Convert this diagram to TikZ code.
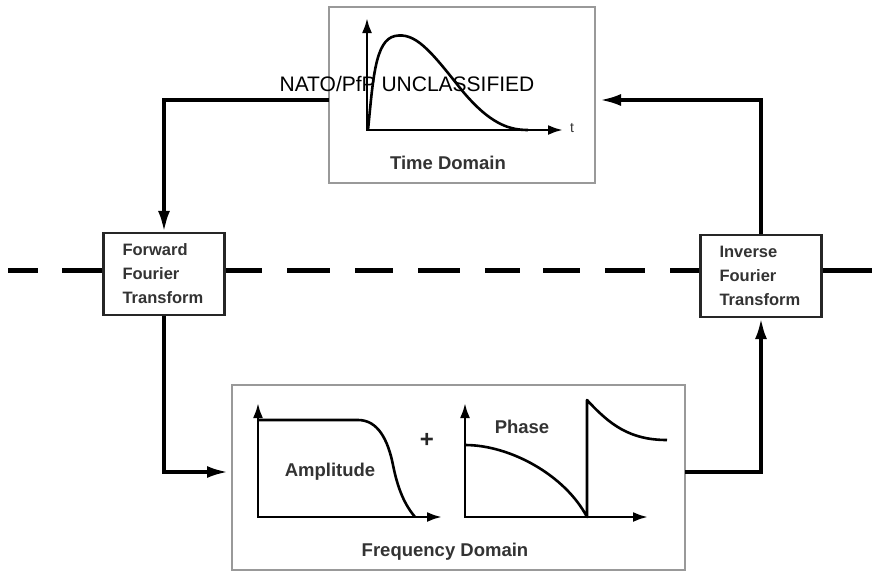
\documentclass[tikz,border=0pt]{standalone}
\usepackage{fontspec}
\setmainfont{Liberation Sans}
\usetikzlibrary{arrows.meta}
\begin{document}
\begin{tikzpicture}[x=1pt,y=-1pt,
  conn/.style={line width=3.5pt, -{Latex[length=21pt,width=12pt]}},
  axes/.style={line width=2.6pt, {Latex[length=15pt,width=10pt]}-{Latex[length=15pt,width=10pt]}},
  curve/.style={line width=2.6pt, line join=round},
  domainbox/.style={draw=black!40, line width=1.3pt, fill=white, inner sep=0pt},
  xformbox/.style={draw=black!85, line width=2.2pt, fill=white, align=left,
    text width=83pt, inner xsep=19pt, minimum height=82pt,
    font=\bfseries\fontsize{16.5}{24}\selectfont, text=black!80},
  lbl/.style={font=\bfseries\fontsize{18.5}{20}\selectfont, text=black!80, inner sep=0pt},
  dashseg/.style={line width=5pt}
]
\useasboundingbox[fill=white] (0,0) rectangle (887,581);

% dividing line between the time and frequency halves
\foreach \a/\b in {8/38, 62/102, 223/262, 287/330, 355/393, 418/460,
                   485/520, 543/580, 605/645, 670/700, 822/872}
  \draw[dashseg] (\a,270) -- (\b,270);

% boxes
\node[domainbox, minimum width=266pt, minimum height=176pt] (time) at (462,95) {};
\node[domainbox, minimum width=453pt, minimum height=185pt] (freq) at (458.5,477.5) {};
\node[xformbox] (fwd) at (164,274) {Forward\\Fourier\\Transform};
\node[xformbox] (inv) at (761,276) {Inverse\\Fourier\\Transform};

% connectors
\coordinate (tin) at (329,100);
\coordinate (tout) at (600,100);
\coordinate (fin) at (228,472);
\coordinate (fout) at (685,472);
\draw[conn] (tin) -| (fwd.north);
\draw[conn] (fwd.south) |- (fin);
\draw[conn] (fout) -| (inv.south);
\draw[conn] (inv.north) |- (tout);

% time-domain pulse
\draw[axes] (367,18) -- (367,130) -- (563,130);
\draw[curve] (368,130) .. controls (373,80) and (375,40) .. (395,36)
  .. controls (415,32) and (430,50) .. (460,88)
  .. controls (490,125) and (510,130) .. (528,130);
\node[font=\fontsize{14}{16}\selectfont, text=black!80, inner sep=0pt] (tlab) at (572,128) {t};
\node[lbl] (tdom) at (448,163) {Time Domain};

% amplitude spectrum
\draw[axes] (258,403) -- (258,517) -- (442,517);
\draw[curve] (258,420) -- (358,420) .. controls (378,420) and (388,440) .. (393,465)
  .. controls (398,490) and (405,505) .. (415,517);
\node[lbl] (amp) at (330,472) {Amplitude};
\node[font=\bfseries\fontsize{24}{26}\selectfont, text=black!85, inner sep=0pt] (plus) at (427,440) {+};

% phase spectrum
\draw[axes] (465,403) -- (465,517) -- (648,517);
\draw[curve] (465,445) .. controls (510,445) and (565,475) .. (587,517)
  -- (587,400) .. controls (610,425) and (630,440) .. (667,440);
\node[lbl] (phase) at (522,427) {Phase};
\node[lbl] (fdom) at (445,552) {Frequency Domain};

% classification marking
\node[font=\fontsize{21}{24}\selectfont, inner sep=0pt] (nato) at (407,84) {NATO/PfP UNCLASSIFIED};
\end{tikzpicture}
\end{document}
